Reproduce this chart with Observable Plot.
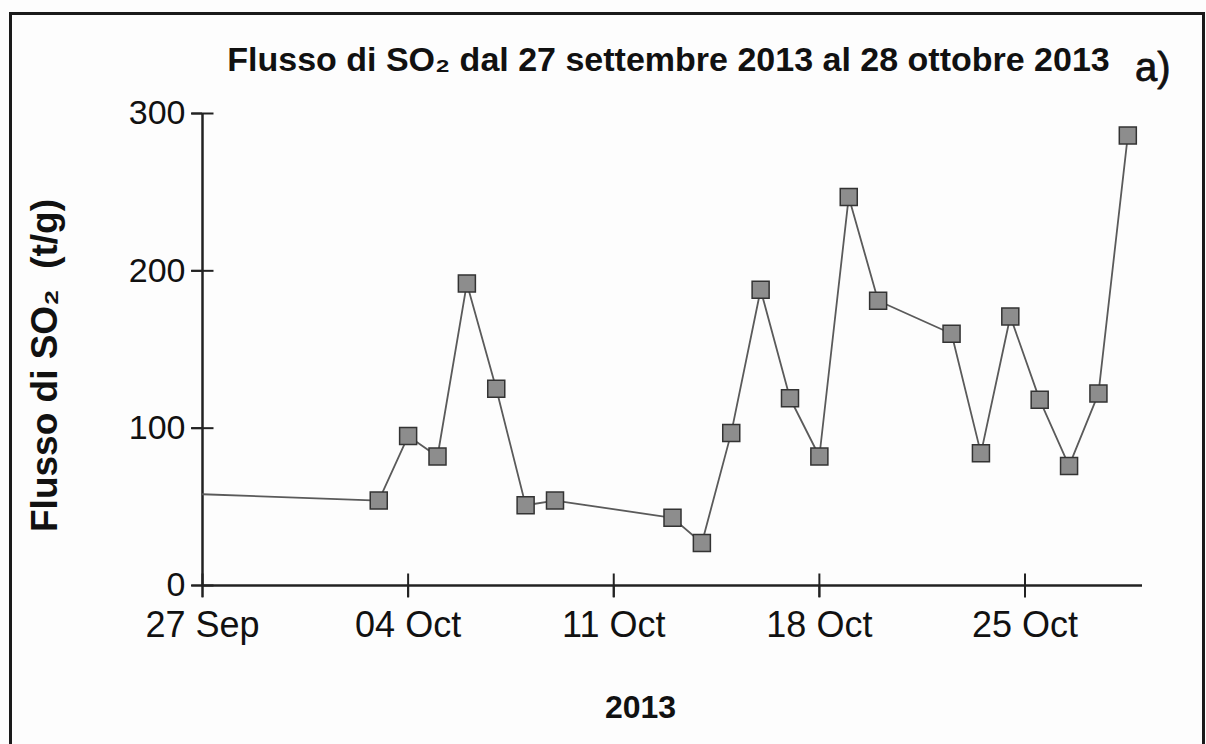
<!DOCTYPE html>
<html><head><meta charset="utf-8">
<script src="https://cdn.jsdelivr.net/npm/d3@7"></script>
<script src="https://cdn.jsdelivr.net/npm/@observablehq/plot@0.6"></script>
<style>
body{margin:0;background:#fff;}
#wrap{position:relative;width:1206px;height:744px;overflow:hidden;background:#fdfdfd;}
#border{position:absolute;left:9px;top:12px;width:1196px;height:800px;border:3px solid #1a1a1a;box-sizing:border-box;}
#wrap svg{position:absolute;left:0;top:0;}
</style></head><body><div id="wrap"><div id="border"></div></div>
<script>
// measurement dates (UTC) and SO2 flux values (t/g)
const dates = [
  "2013-10-03T00:00Z","2013-10-04T00:00Z","2013-10-05T00:00Z","2013-10-06T00:00Z",
  "2013-10-07T00:00Z","2013-10-08T00:00Z","2013-10-09T00:00Z","2013-10-13T00:00Z",
  "2013-10-14T00:00Z","2013-10-15T00:00Z","2013-10-16T00:00Z","2013-10-17T00:00Z",
  "2013-10-18T00:00Z","2013-10-19T00:00Z","2013-10-20T00:00Z","2013-10-22T12:00Z",
  "2013-10-23T12:00Z","2013-10-24T12:00Z","2013-10-25T12:00Z","2013-10-26T12:00Z",
  "2013-10-27T12:00Z","2013-10-28T12:00Z"
];
const flux = [54, 95, 82, 192, 125, 51, 54, 43, 27, 97, 188, 119, 82, 247, 181, 160, 84, 171, 118, 76, 122, 286];
// line continues in from the left edge (earlier measurement)
const lineStartDate = "2013-09-27T00:00Z";
const lineStartValue = 58;
const xDomain = ["2013-09-27T00:00Z", "2013-10-29T00:00Z"];
const xTickDates = ["2013-09-27T00:00Z","2013-10-04T00:00Z","2013-10-11T00:00Z","2013-10-18T00:00Z","2013-10-25T00:00Z"];
const yTicks = [0, 100, 200, 300];
const titleText = "Flusso di SO\u2082 dal 27 settembre 2013 al 28 ottobre 2013";
const panelText = "a)";
const xLabel = "2013";
const yLabel = "Flusso di SO\u2082\u00a0\u00a0(t/g)";

const data = dates.map((d, i) => ({date: new Date(d), value: flux[i]}));
const lineData = [{date: new Date(lineStartDate), value: lineStartValue}, ...data];
const xTicks = xTickDates.map(d => new Date(d));
const x0 = new Date(xDomain[0]);
const font = "'Liberation Sans', Arial, sans-serif";

// symbols for tick marks that cross the axis line
const hTick = {draw(ctx, size) { const r = Math.sqrt(size / Math.PI); ctx.moveTo(-r, 0); ctx.lineTo(r, 0); }};
const vTick = {draw(ctx, size) { const r = Math.sqrt(size / Math.PI); ctx.moveTo(0, -r); ctx.lineTo(0, r); }};

const chart = Plot.plot({
  width: 1206, height: 744,
  marginLeft: 202, marginRight: 64, marginTop: 113, marginBottom: 159,
  style: {fontFamily: font, fontSize: "34px", color: "#111", background: "transparent", overflow: "visible"},
  x: {type: "utc", domain: xDomain.map(d => new Date(d))},
  y: {domain: [0, 300]},
  marks: [
    Plot.axisX({ticks: xTicks, tickFormat: d3.utcFormat("%d %b"), tickSize: 12, tickPadding: 14, fontSize: 36, strokeWidth: 2, stroke: "#222", label: null}),
    Plot.axisY({ticks: yTicks, tickSize: 11, tickPadding: 6, strokeWidth: 2, stroke: "#222", label: null}),
    Plot.dot(yTicks, {x: () => x0, y: d => d, symbol: hTick, r: 11, fill: "none", stroke: "#222", strokeWidth: 2}),
    Plot.dot(xTicks, {x: d => d, y: () => 0, symbol: vTick, r: 12, fill: "none", stroke: "#222", strokeWidth: 2}),
    Plot.ruleY([0], {stroke: "#222", strokeWidth: 2.5}),
    Plot.ruleX([x0], {stroke: "#222", strokeWidth: 2.5}),
    Plot.line(lineData, {x: "date", y: "value", stroke: "#5a5a5a", strokeWidth: 1.8}),
    Plot.dot(data, {x: "date", y: "value", symbol: "square", r: 9.6, fill: "#8d8d8d", stroke: "#333", strokeWidth: 1.5}),
    Plot.text([titleText], {frameAnchor: "top", dx: -4, dy: -67, fontSize: 34, fontWeight: "bold", fill: "#111"}),
    Plot.text([panelText], {frameAnchor: "top-right", textAnchor: "end", dx: 28, dy: -61, fontSize: 40, fill: "#111", stroke: "#111", strokeWidth: 0.8}),
    Plot.text([xLabel], {frameAnchor: "bottom", dx: -32, dy: 132, fontSize: 32, fontWeight: "bold", fill: "#111"}),
    Plot.text([yLabel], {frameAnchor: "left", textAnchor: "middle", rotate: -90, dx: -157, dy: 16, fontSize: 37, fontWeight: "bold", fill: "#111"})
  ]
});
document.getElementById("wrap").appendChild(chart);
</script>
</body></html>
